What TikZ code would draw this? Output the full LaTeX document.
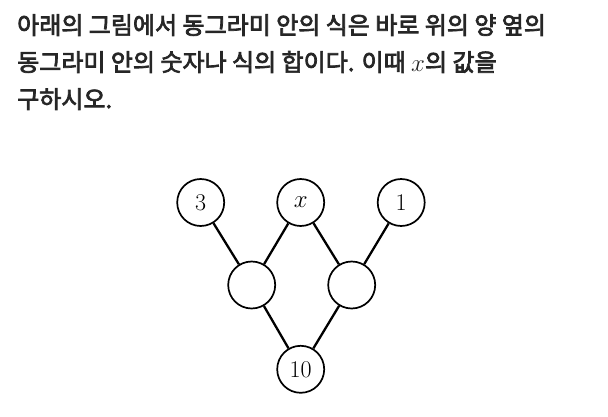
\documentclass[tikz,border=0pt]{standalone}
\usepackage{fontspec}
\newfontfamily\kr[FakeBold=3]{Noto Sans CJK KR}
\usetikzlibrary{positioning}

\begin{document}
\begin{tikzpicture}[x=1pt, y=-1pt,
  num/.style={draw, circle, line width=1.7pt, minimum size=47pt, inner sep=0pt, font=\fontsize{24}{24}\selectfont},
  link/.style={line width=2.3pt},
  task/.style={anchor=north west, align=left, inner sep=0pt, text=black!85, font=\kr\fontsize{24}{37}\selectfont}]
  \useasboundingbox (0,0) rectangle (608,417);
  \node[task] (q) at (17,14) {아래의 그림에서 동그라미 안의 식은 바로 위의 양 옆의\\동그라미 안의 숫자나 식의 합이다. 이때 $x$의 값을\\구하시오.};
  % top row
  \node[num] (a) at (200.7,202.5) {3};
  \node[num] (x) at (300.7,202.5) {$x$};
  \node[num] (b) at (401.2,202.5) {1};
  % middle row
  \node[num] (l) at (251.7,285) {};
  \node[num] (r) at (351.7,285) {};
  % bottom
  \node[num] (s) at (300.7,369.3) {10};
  \draw[link] (a) -- (l); \draw[link] (x) -- (l);
  \draw[link] (x) -- (r); \draw[link] (b) -- (r);
  \draw[link] (l) -- (s); \draw[link] (r) -- (s);
\end{tikzpicture}
\end{document}
